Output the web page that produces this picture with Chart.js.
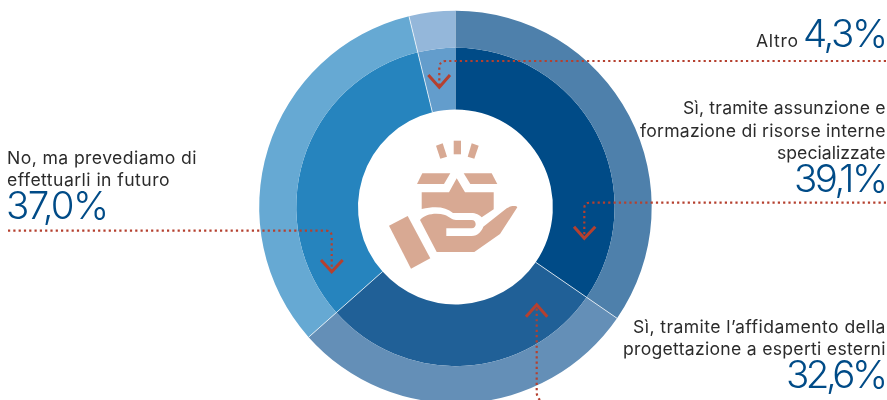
<!DOCTYPE html>
<html lang="it">
<head>
<meta charset="utf-8">
<title>Progettazione</title>
<script src="https://cdn.jsdelivr.net/npm/chart.js@4"></script>
<style>
  html, body { margin: 0; padding: 0; background: #fff; overflow: hidden; }
  #stage { position: relative; width: 887px; height: 400px; overflow: hidden; }
  #chart { position: absolute; left: 0; top: 0; }
  #overlay { position: absolute; left: 0; top: 0; }
  .txt { font-family: Inter, sans-serif; font-size: 17.6px; fill: #2b2b2b; }
  .num { font-family: Inter, sans-serif; font-size: 38.5px; font-weight: 300; fill: #004b87; }
  .leader { fill: none; stroke: #b5402f; stroke-width: 2.2; stroke-dasharray: 2.2 3.1; }
  .chev { fill: none; stroke: #b5402f; stroke-width: 3; }
  .icon { fill: #d8a993; }
</style>
</head>
<body>
<div id="stage">
  <canvas id="chart" width="887" height="420" style="width:887px;height:420px"></canvas>
  <svg id="overlay" width="887" height="400" viewBox="0 0 887 400"></svg>
</div>
<script>
// Risposte, in senso orario dalle ore 12
const categories = [
  "Sì, tramite assunzione e formazione di risorse interne specializzate",
  "Sì, tramite l’affidamento della progettazione a esperti esterni",
  "No, ma prevediamo di effettuarli in futuro",
  "Altro"
];
const values = [39.1, 32.6, 37.0, 4.3];
const innerColors = ["#004b87", "#206097", "#2684be", "#639dcc"];
const outerColors = ["#4e80ab", "#648fb7", "#66a9d3", "#94b7da"];

const percent = v => v.toFixed(1).replace(".", ",") + "%";

// Sottili filetti bianchi fra le fette, esclusa la giunzione alle ore 12
const separators = {
  id: "separators",
  afterDatasetsDraw(chart) {
    const outer = chart.getDatasetMeta(0).data;
    const inner = chart.getDatasetMeta(1).data;
    const ctx = chart.ctx;
    ctx.save();
    ctx.strokeStyle = "rgba(255,255,255,0.9)";
    ctx.lineWidth = 0.8;
    for (let i = 1; i < outer.length; i++) {
      const a = outer[i].startAngle;
      const { x, y, outerRadius } = outer[i];
      const r0 = inner[i].innerRadius;
      ctx.beginPath();
      ctx.moveTo(x + Math.cos(a) * r0, y + Math.sin(a) * r0);
      ctx.lineTo(x + Math.cos(a) * outerRadius, y + Math.sin(a) * outerRadius);
      ctx.stroke();
    }
    ctx.restore();
  }
};

new Chart(document.getElementById("chart"), {
  type: "doughnut",
  data: {
    labels: categories,
    datasets: [
      { data: values, backgroundColor: outerColors, borderWidth: 0, weight: 37 },
      { data: values, backgroundColor: innerColors, borderWidth: 0, weight: 61.7 }
    ]
  },
  options: {
    responsive: false,
    animation: false,
    events: [],
    cutout: "49.64%",
    layout: { padding: { left: 259.2, right: 235.3, top: 10.7, bottom: 16.8 } },
    plugins: { legend: { display: false }, tooltip: { enabled: false } }
  },
  plugins: [separators]
});

// Etichette: [testo, classe, x, linea di base, larghezza, ancoraggio]
const textRows = [
  ["Altro", "txt", 798, 46.7, 42, "end"],
  [percent(values[3]), "num", 888, 46.7, 85, "end"],
  ["Sì, tramite assunzione e", "txt", 885.5, 114, 202.5, "end"],
  ["formazione di risorse interne", "txt", 885.5, 136.7, 245.5, "end"],
  ["specializzate", "txt", 885.5, 159.3, 108.5, "end"],
  [percent(values[0]), "num", 888, 192.3, 94, "end"],
  ["Sì, tramite l’affidamento della", "txt", 885.5, 332.7, 252.5, "end"],
  ["progettazione a esperti esterni", "txt", 885.5, 355, 262.5, "end"],
  [percent(values[1]), "num", 888, 388.3, 102, "end"],
  ["No, ma prevediamo di", "txt", 7, 164, 189.5, "start"],
  ["effettuarli in futuro", "txt", 7, 186, 162.5, "start"],
  [percent(values[2]), "num", 6, 219.3, 103, "start"]
];

// Richiami tratteggiati e relative punte di freccia
const leaders = [
  "M886 61H446Q439.3 61 439.3 68V87",
  "M886 202.7H590Q584.3 202.7 584.3 208.5V238",
  "M540 400Q536.7 397 536.7 392V305",
  "M8 230.7H326Q331.7 230.7 331.7 236.5V271"
];
const chevrons = [
  "M428.3 75L439.3 87.3L450 75",
  "M574 226.7L584.3 238.3L595.3 226.7",
  "M526 316.7L536.7 304.8L547.3 316.7",
  "M321 260L331.7 271.7L342.7 260"
];

// Icona centrale: mano che sorregge una scatola aperta
const iconShapes = [
  "M436 145.7L442.7 143.3L447 156.7L440.3 158.7Z",
  "M453.7 140.7H461V154.3H453.7Z",
  "M471.7 143.3L478.7 145.7L474.3 158.7L467.7 156.7Z",
  "M422.3 173.3H450.3L444 184H417Z",
  "M463.7 173.3H491.7L497.3 184H470.3Z",
  "M456.7 178.3L465 192.3H493.7V209.3L481.7 217.3C478 213.5 474 213 470 213L453 213C446 207 436 206 421.7 209V192.3H449Z",
  "M389 225.7L407.7 216L430.3 258.3L411 268.7Z",
  "M420 220C425 214 436 212.5 445 215C450 217 452 220 456 220H471.7C477 220 477 228.3 471.7 228.3H446.3V236H471.7C478 236 481.7 231 483.3 226.7L506.7 208.3C512 205 517 206 517.3 207.3L500 234L474.3 252H436.7Z"
];

const svgNS = "http://www.w3.org/2000/svg";
const overlay = document.getElementById("overlay");
function add(tag, attrs, text) {
  const el = document.createElementNS(svgNS, tag);
  for (const k in attrs) el.setAttribute(k, attrs[k]);
  if (text !== undefined) el.textContent = text;
  overlay.appendChild(el);
}
iconShapes.forEach(d => add("path", { d, class: "icon" }));
leaders.forEach(d => add("path", { d, class: "leader" }));
chevrons.forEach(d => add("path", { d, class: "chev" }));
textRows.forEach(([t, cls, x, y, w, anchor]) =>
  add("text", { x, y, class: cls, "text-anchor": anchor, textLength: w, lengthAdjust: "spacing" }, t));
</script>
</body>
</html>
